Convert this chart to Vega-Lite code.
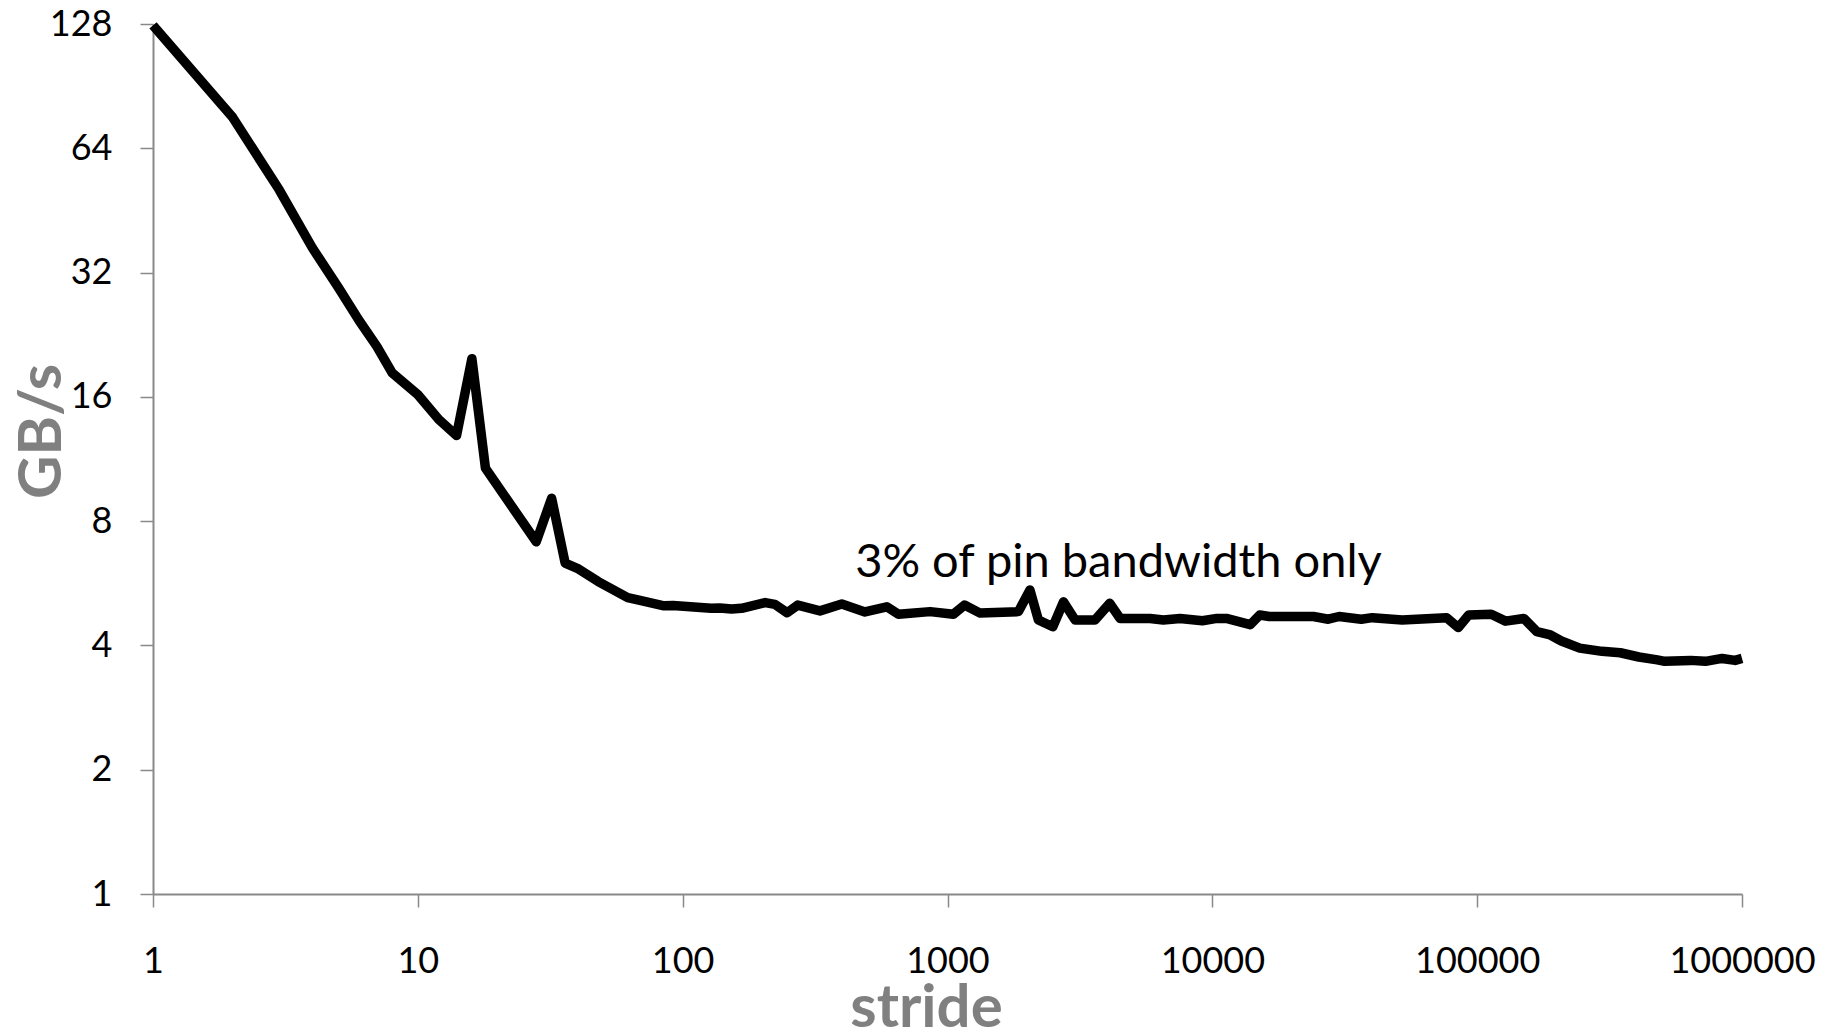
{
  "$schema": "https://vega.github.io/schema/vega-lite/v6.json",
  "width": 1589,
  "height": 870,
  "autosize": "none",
  "padding": {"left": 153, "top": 24, "right": 91, "bottom": 139},
  "background": "white",
  "config": {"view": {"stroke": null}, "font": "Lato"},
  "datasets": {
    "bw": [
      {"stride": 1, "gbps": 127},
      {"stride": 2, "gbps": 76},
      {"stride": 3, "gbps": 50.7},
      {"stride": 4, "gbps": 36.7},
      {"stride": 5, "gbps": 29.5},
      {"stride": 6, "gbps": 24.5},
      {"stride": 7, "gbps": 21.2},
      {"stride": 8, "gbps": 18.3},
      {"stride": 10, "gbps": 16.2},
      {"stride": 12, "gbps": 14.1},
      {"stride": 14, "gbps": 12.9},
      {"stride": 16, "gbps": 19.8},
      {"stride": 18, "gbps": 10.75},
      {"stride": 28, "gbps": 7.13},
      {"stride": 32, "gbps": 9.09},
      {"stride": 36, "gbps": 6.33},
      {"stride": 40, "gbps": 6.15},
      {"stride": 48, "gbps": 5.71},
      {"stride": 62, "gbps": 5.22},
      {"stride": 69, "gbps": 5.14},
      {"stride": 85, "gbps": 4.99},
      {"stride": 92, "gbps": 5.0},
      {"stride": 128, "gbps": 4.92},
      {"stride": 138, "gbps": 4.93},
      {"stride": 153, "gbps": 4.9},
      {"stride": 167, "gbps": 4.92},
      {"stride": 205, "gbps": 5.08},
      {"stride": 223, "gbps": 5.03},
      {"stride": 248, "gbps": 4.8},
      {"stride": 272, "gbps": 5.01},
      {"stride": 330, "gbps": 4.85},
      {"stride": 399, "gbps": 5.04},
      {"stride": 488, "gbps": 4.82},
      {"stride": 590, "gbps": 4.96},
      {"stride": 653, "gbps": 4.76},
      {"stride": 860, "gbps": 4.83},
      {"stride": 1052, "gbps": 4.76},
      {"stride": 1159, "gbps": 5.01},
      {"stride": 1328, "gbps": 4.79},
      {"stride": 1853, "gbps": 4.83},
      {"stride": 2048, "gbps": 5.45},
      {"stride": 2204, "gbps": 4.61},
      {"stride": 2500, "gbps": 4.44},
      {"stride": 2741, "gbps": 5.1},
      {"stride": 3033, "gbps": 4.61},
      {"stride": 3608, "gbps": 4.61},
      {"stride": 4096, "gbps": 5.06},
      {"stride": 4487, "gbps": 4.65},
      {"stride": 5820, "gbps": 4.65},
      {"stride": 6530, "gbps": 4.61},
      {"stride": 7555, "gbps": 4.65},
      {"stride": 9170, "gbps": 4.59},
      {"stride": 10400, "gbps": 4.65},
      {"stride": 11300, "gbps": 4.65},
      {"stride": 13900, "gbps": 4.49},
      {"stride": 15100, "gbps": 4.74},
      {"stride": 16400, "gbps": 4.7},
      {"stride": 24100, "gbps": 4.7},
      {"stride": 27400, "gbps": 4.63},
      {"stride": 30100, "gbps": 4.7},
      {"stride": 36500, "gbps": 4.63},
      {"stride": 40200, "gbps": 4.67},
      {"stride": 52100, "gbps": 4.61},
      {"stride": 76600, "gbps": 4.67},
      {"stride": 84900, "gbps": 4.42},
      {"stride": 92900, "gbps": 4.74},
      {"stride": 113000, "gbps": 4.76},
      {"stride": 128000, "gbps": 4.58},
      {"stride": 150000, "gbps": 4.65},
      {"stride": 168000, "gbps": 4.32},
      {"stride": 189000, "gbps": 4.24},
      {"stride": 208000, "gbps": 4.1},
      {"stride": 244000, "gbps": 3.94},
      {"stride": 296000, "gbps": 3.87},
      {"stride": 347000, "gbps": 3.84},
      {"stride": 408000, "gbps": 3.75},
      {"stride": 479000, "gbps": 3.69},
      {"stride": 511000, "gbps": 3.66},
      {"stride": 640000, "gbps": 3.68},
      {"stride": 728000, "gbps": 3.66},
      {"stride": 841000, "gbps": 3.72},
      {"stride": 942000, "gbps": 3.68},
      {"stride": 1000000, "gbps": 3.72}
    ],
    "note": [
      {"stride": 448, "gbps": 5.86, "label": "3% of pin bandwidth only"}
    ]
  },
  "layer": [
    {
      "data": {"name": "bw"},
      "mark": {"type": "line", "color": "black", "strokeWidth": 9.5, "strokeJoin": "round", "strokeCap": "butt", "clip": false},
      "encoding": {
        "x": {
          "field": "stride", "type": "quantitative",
          "scale": {"type": "log", "base": 10, "domain": [1, 1000000], "nice": false},
          "axis": {
            "title": "stride",
            "values": [1, 10, 100, 1000, 10000, 100000, 1000000],
            "format": "d",
            "grid": false,
            "domainColor": "#898989", "domainWidth": 2,
            "tickColor": "#898989", "tickWidth": 1.5, "tickSize": 13,
            "labelFont": "Lato", "labelFontSize": 36, "labelColor": "black",
            "labelPadding": 37, "labelBaseline": "top", "labelFlush": false, "labelOverlap": false,
            "titleFont": "Lato", "titleFontSize": 60, "titleFontWeight": "bold", "titleColor": "#808080",
            "titleX": 773, "titleY": 132, "titleBaseline": "alphabetic", "titleAlign": "center"
          }
        },
        "y": {
          "field": "gbps", "type": "quantitative",
          "scale": {"type": "log", "base": 2, "domain": [1, 128], "nice": false},
          "axis": {
            "title": "GB/s",
            "values": [1, 2, 4, 8, 16, 32, 64, 128],
            "format": "d",
            "grid": false,
            "domainColor": "#898989", "domainWidth": 2,
            "tickColor": "#898989", "tickWidth": 1.5, "tickSize": 13,
            "labelFont": "Lato", "labelFontSize": 36, "labelColor": "black",
            "labelPadding": 28, "labelFlush": false, "labelOverlap": false,
            "titleFont": "Lato", "titleFontSize": 60, "titleFontWeight": "bold", "titleColor": "#808080",
            "titleAngle": -90, "titleX": -93, "titleY": 407, "titleBaseline": "alphabetic", "titleAlign": "center"
          }
        }
      }
    },
    {
      "data": {"name": "note"},
      "mark": {"type": "text", "font": "Lato", "fontSize": 47, "color": "black", "align": "left", "baseline": "alphabetic"},
      "encoding": {
        "x": {"field": "stride", "type": "quantitative"},
        "y": {"field": "gbps", "type": "quantitative"},
        "text": {"field": "label"}
      }
    }
  ]
}
